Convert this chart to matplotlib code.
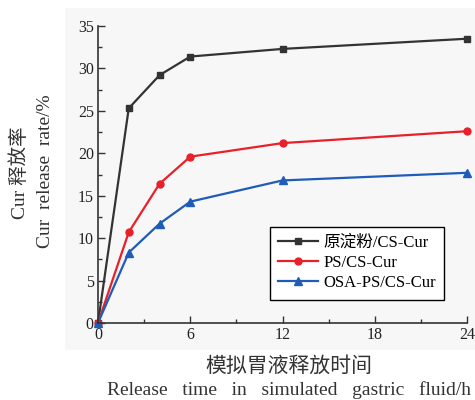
import matplotlib
matplotlib.use("Agg")
import matplotlib.pyplot as plt
from matplotlib.patches import Rectangle
from matplotlib.ticker import MultipleLocator

# release time (h)
times = [0, 2, 4, 6, 12, 24]
# Cur release rate (%)
native_cs = [0, 25.3, 29.2, 31.4, 32.3, 33.5]
ps_cs = [0, 10.7, 16.4, 19.6, 21.2, 22.6]
osa_ps_cs = [0, 8.3, 11.7, 14.3, 16.8, 17.7]
labels = ["原淀粉/CS-Cur", "PS/CS-Cur", "OSA-PS/CS-Cur"]

FONT = ["Liberation Serif", "Noto Sans CJK SC"]
plt.rcParams["font.family"] = FONT

fig = plt.figure(figsize=(4.75, 4.0), dpi=100)
fig.patches.append(Rectangle((65 / 475, 1 - 350 / 400), 410 / 475, 342 / 400,
                             transform=fig.transFigure, facecolor="#f7f7f7",
                             edgecolor="none", zorder=-5))
ax = fig.add_axes([98 / 475, 1 - 323 / 400, (467 - 98) / 475, (323 - 26) / 400])
ax.set_facecolor("none")

ax.plot(times, native_cs, "-s", color="#333333", lw=1.6, ms=5, label=labels[0], clip_on=False)
ax.plot(times, ps_cs, "-o", color="#e8202a", lw=1.6, ms=5, label=labels[1], clip_on=False)
ax.plot(times, osa_ps_cs, "-^", color="#1f5cb8", lw=1.6, ms=5.5, label=labels[2], clip_on=False)

ax.set_xlim(0, 24)
ax.set_ylim(0, 35)
ax.xaxis.set_major_locator(MultipleLocator(6))
ax.xaxis.set_minor_locator(MultipleLocator(3))
ax.yaxis.set_major_locator(MultipleLocator(5))
ax.yaxis.set_minor_locator(MultipleLocator(2.5))
ax.tick_params(which="both", direction="in", labelsize=11.5, width=1, color="#333333",
               labelcolor="#222222")
ax.tick_params(which="major", length=5, pad=3)
ax.tick_params(which="minor", length=3)
for s in ("top", "right"):
    ax.spines[s].set_visible(False)
for s in ("left", "bottom"):
    ax.spines[s].set_linewidth(1.2)
    ax.spines[s].set_color("#333333")

leg = ax.legend(loc="lower right", bbox_to_anchor=(0.952, 0.062), fontsize=12,
                frameon=True, fancybox=False, handlelength=2.4, borderpad=0.5,
                labelspacing=0.25, handletextpad=0.3, borderaxespad=0.3)
leg.get_frame().set_edgecolor("black")
leg.get_frame().set_linewidth(1.0)
leg.get_frame().set_facecolor("white")
leg.get_frame().set_alpha(1)

fig.text(20 / 475, 1 - 173 / 400, "Cur 释放率", rotation=90, ha="center",
         va="center", fontsize=14, color="#333333")
fig.text(46 / 475, 1 - 171 / 400, "Cur  release  rate/%", rotation=90,
         ha="center", va="center", fontsize=14, color="#333333")
fig.text(289 / 475, 1 - 367 / 400, "模拟胃液释放时间", ha="center", va="center",
         fontsize=15, color="#333333")
fig.text(289 / 475, 1 - 390 / 400, "Release   time   in   simulated   gastric   fluid/h",
         ha="center", va="center", fontsize=14, color="#333333")

fig.savefig("out.png", dpi=100)
